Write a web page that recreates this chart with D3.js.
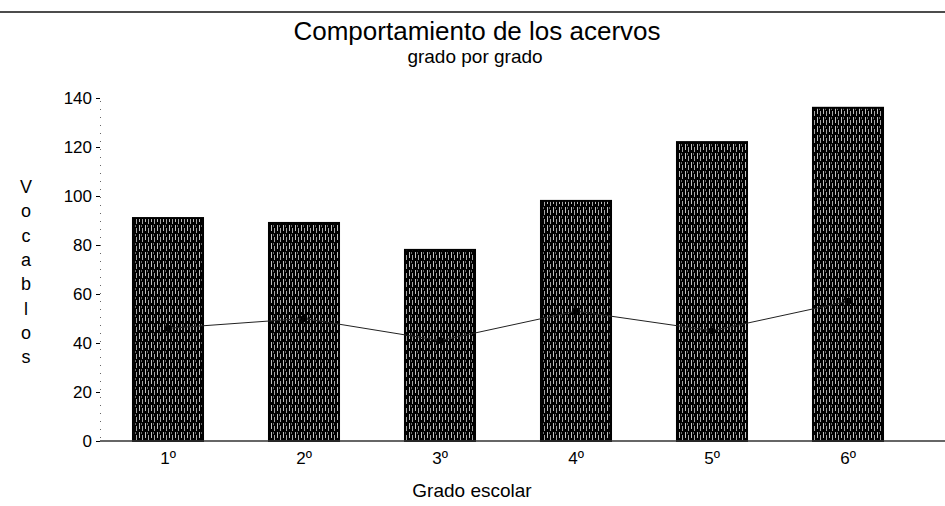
<!DOCTYPE html>
<html>
<head>
<meta charset="utf-8">
<script src="https://cdn.jsdelivr.net/npm/d3@7"></script>
<style>
  html, body { margin: 0; padding: 0; background: #fff; }
  svg { display: block; font-family: "Liberation Sans", Arial, sans-serif; }
</style>
</head>
<body>
<svg id="chart" width="945" height="506"></svg>
<script>
const categories = ["1º", "2º", "3º", "4º", "5º", "6º"];
const barValues = [91, 89, 78, 98, 122, 136];
const lineValues = [46, 50, 41, 53, 45, 57];
const yTicks = [0, 20, 40, 60, 80, 100, 120, 140];
const title = "Comportamiento de los acervos";
const subtitle = "grado por grado";
const xTitle = "Grado escolar";
const yTitle = "Vocablos";

const svg = d3.select("#chart");
const W = 945, H = 506;
const mLeft = 100, mRight = 916, mTop = 98, mBottom = 441;

const x = d3.scaleBand().domain(categories).range([mLeft, mRight]).paddingInner(0.485).paddingOuter(0.2425);
const y = d3.scaleLinear().domain([0, 140]).range([mBottom, mTop]);

// pattern for bars (dark with vertical light streaks)
const defs = svg.append("defs");
const pat = defs.append("pattern").attr("id", "stripes").attr("patternUnits", "userSpaceOnUse")
  .attr("width", 6).attr("height", 9);
pat.append("rect").attr("width", 6).attr("height", 9).attr("fill", "#000");
pat.append("rect").attr("x", 1).attr("y", 0).attr("width", 1).attr("height", 6).attr("fill", "#fff").attr("opacity", 0.75);
pat.append("rect").attr("x", 4).attr("y", 3).attr("width", 1).attr("height", 5).attr("fill", "#fff").attr("opacity", 0.65);
pat.append("rect").attr("x", 3).attr("y", 0).attr("width", 1).attr("height", 2).attr("fill", "#fff").attr("opacity", 0.4);

// top rule
svg.append("line").attr("x1", 0).attr("x2", W).attr("y1", 12).attr("y2", 12)
  .attr("stroke", "#111").attr("stroke-width", 1.5);

// titles
svg.append("text").attr("x", 477).attr("y", 40).attr("text-anchor", "middle")
  .attr("font-size", 26).attr("fill", "#000").text(title);
svg.append("text").attr("x", 475).attr("y", 63).attr("text-anchor", "middle")
  .attr("font-size", 19).attr("fill", "#000").text(subtitle);

// y axis
const yAxis = d3.axisLeft(y).tickValues(yTicks).tickSize(4).tickPadding(4).tickFormat(d3.format("d"));
const gy = svg.append("g").attr("transform", `translate(${mLeft},0)`).call(yAxis);
gy.select(".domain").attr("stroke", "#000").attr("stroke-dasharray", "1,7").attr("stroke-width", 1).attr("opacity", 0.6);
gy.selectAll(".tick line").attr("stroke", "#000");
gy.selectAll(".tick text").attr("font-size", 17).attr("fill", "#000")
  .attr("font-family", "Liberation Sans, Arial, sans-serif");

// bars
svg.append("g").selectAll("rect").data(categories).join("rect")
  .attr("x", d => x(d))
  .attr("y", (d, i) => y(barValues[i]))
  .attr("width", x.bandwidth())
  .attr("height", (d, i) => y(0) - y(barValues[i]))
  .attr("fill", "url(#stripes)")
  .attr("stroke", "#000").attr("stroke-width", 2);

// x axis
const xAxis = d3.axisBottom(x).tickSize(0).tickPadding(11);
const gx = svg.append("g").attr("transform", `translate(0,${mBottom})`).call(xAxis);
gx.select(".domain").remove();
gx.append("line").attr("x1", mLeft).attr("x2", W).attr("y1", 0).attr("y2", 0)
  .attr("stroke", "#333").attr("stroke-width", 1.5);
gx.selectAll(".tick text").attr("font-size", 17).attr("fill", "#000")
  .attr("font-family", "Liberation Sans, Arial, sans-serif");

// line series
const line = d3.line().x((d, i) => x(categories[i]) + x.bandwidth() / 2).y(d => y(d));
svg.append("path").datum(lineValues).attr("d", line)
  .attr("fill", "none").attr("stroke", "#222").attr("stroke-width", 1);
svg.append("g").selectAll("circle").data(lineValues).join("circle")
  .attr("cx", (d, i) => x(categories[i]) + x.bandwidth() / 2)
  .attr("cy", d => y(d)).attr("r", 3.5).attr("fill", "#000");

// axis titles
svg.append("text").attr("x", 472).attr("y", 497).attr("text-anchor", "middle")
  .attr("font-size", 19).attr("fill", "#000").text(xTitle);
const yt = svg.append("text").attr("text-anchor", "middle").attr("font-size", 18).attr("fill", "#000");
yTitle.split("").forEach((ch, i) => {
  yt.append("tspan").attr("x", 26).attr("y", 193 + i * 24.3).text(ch);
});
</script>
</body>
</html>
